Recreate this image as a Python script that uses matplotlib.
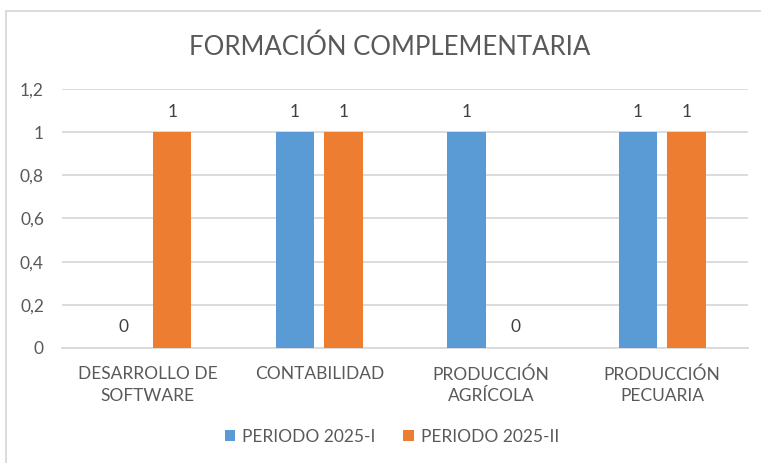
import numpy as np
from matplotlib import pyplot as plt
from matplotlib.patches import Rectangle

# Data
categories = ["DESARROLLO DE\nSOFTWARE", "CONTABILIDAD", "PRODUCCIÓN\nAGRÍCOLA", "PRODUCCIÓN\nPECUARIA"]
series_names = ["PERIODO 2025-I", "PERIODO 2025-II"]
periodo_1 = [0, 1, 1, 1]
periodo_2 = [1, 1, 0, 1]
y_ticks = [0, 0.2, 0.4, 0.6, 0.8, 1.0, 1.2]
y_tick_labels = ["0", "0,2", "0,4", "0,6", "0,8", "1", "1,2"]

blue = "#5b9bd5"
orange = "#ed7d31"
text_col = "#595959"
grid_col = "#d9d9d9"

plt.rcParams['font.family'] = ['Lato', 'DejaVu Sans']

fig = plt.figure(figsize=(7.61, 4.63), dpi=100)
ax = fig.add_axes([0.0815, 0.2484, 0.9015, 0.5594])

x = np.arange(len(categories))
width = 0.225
off = 0.142
b1 = ax.bar(x - off, periodo_1, width, color=blue, label=series_names[0], zorder=3)
b2 = ax.bar(x + off, periodo_2, width, color=orange, label=series_names[1], zorder=3)

for bars, vals in ((b1, periodo_1), (b2, periodo_2)):
    for rect, v in zip(bars, vals):
        ax.annotate(str(v), (rect.get_x() + rect.get_width() / 2, v),
                    xytext=(0, 9), textcoords='offset points',
                    ha='center', va='bottom', fontsize=12.5, color="#404040")

ax.set_xlim(-0.5, len(categories) - 0.5)
ax.set_ylim(0, 1.2)
ax.set_yticks(y_ticks)
ax.set_yticklabels(y_tick_labels, fontsize=12.5, color=text_col)
ax.set_xticks(x)
ax.set_xticklabels(categories, fontsize=12.5, color=text_col, linespacing=1.45)
ax.tick_params(axis='y', length=0, pad=13)
ax.tick_params(axis='x', length=0, pad=13)
ax.grid(axis='y', color=grid_col, linewidth=1.3, zorder=0)
for side in ['top', 'right', 'left']:
    ax.spines[side].set_visible(False)
ax.spines['bottom'].set_color(grid_col)
ax.spines['bottom'].set_linewidth(1.3)

fig.text(0.512, 0.898, "FORMACIÓN COMPLEMENTARIA", ha='center', va='center',
         fontsize=18.5, color=text_col)

fig.legend(handles=[b1, b2], loc='center', bbox_to_anchor=(0.515, 0.056),
           ncol=2, frameon=False, fontsize=12.5, labelcolor=text_col,
           handlelength=0.6, handleheight=0.6, handletextpad=0.4, columnspacing=1.6)

# chart border
fig.patches.append(Rectangle((6 / 761, -0.05), 1.0, 1 - 11 / 463 + 0.05,
                             transform=fig.transFigure, fill=False,
                             edgecolor=grid_col, linewidth=1.3))

plt.savefig("out.png", dpi=100)
